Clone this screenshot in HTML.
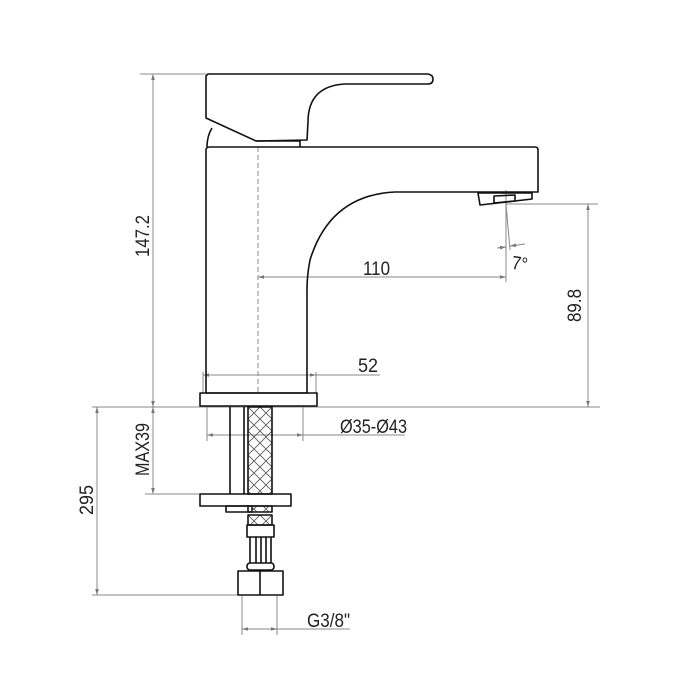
<!DOCTYPE html>
<html><head><meta charset="utf-8"><style>
html,body{margin:0;padding:0;background:#fff;}
svg{display:block}
text{font-family:"Liberation Sans",sans-serif;font-size:19px;fill:#222;}
</style></head><body>
<svg width="700" height="700" viewBox="0 0 700 700" xmlns="http://www.w3.org/2000/svg">
<defs>
<marker id="a" viewBox="0 0 10 10" refX="10" refY="5" markerWidth="8" markerHeight="6" orient="auto-start-reverse"><path d="M0,2 L10,5 L0,8 z" fill="#777"/></marker>
<pattern id="x" width="12" height="12" patternUnits="userSpaceOnUse" x="248" y="407"><path d="M0,0 L12,12 M12,0 L0,12" stroke="#555" stroke-width="0.8"/></pattern>
</defs>
<g fill="none" stroke="#888" stroke-width="1">
<line x1="140" y1="74" x2="206" y2="74"/>
<line x1="92" y1="407" x2="600" y2="407"/>
<line x1="505" y1="204" x2="598" y2="204"/>
<line x1="145" y1="494" x2="200" y2="494"/>
<line x1="92" y1="595" x2="238" y2="595"/>
<line x1="153" y1="74" x2="153" y2="407" marker-start="url(#a)" marker-end="url(#a)"/>
<line x1="588" y1="204" x2="588" y2="407" marker-start="url(#a)" marker-end="url(#a)"/>
<line x1="258" y1="277" x2="506" y2="277" marker-start="url(#a)" marker-end="url(#a)"/>
<line x1="506" y1="190" x2="506" y2="282"/>
<line x1="506" y1="204" x2="510" y2="250"/>
<line x1="497" y1="248" x2="506" y2="247" marker-end="url(#a)"/>
<line x1="525" y1="244" x2="510" y2="246" marker-end="url(#a)"/>
<line x1="203" y1="375" x2="316" y2="375" marker-start="url(#a)" marker-end="url(#a)"/>
<line x1="316" y1="375" x2="380" y2="375"/>
<line x1="203" y1="372" x2="203" y2="394"/>
<line x1="316" y1="372" x2="316" y2="394"/>
<line x1="207" y1="407" x2="207" y2="441"/>
<line x1="303" y1="407" x2="303" y2="441"/>
<line x1="207" y1="435" x2="303" y2="435" marker-start="url(#a)" marker-end="url(#a)"/>
<line x1="303" y1="435" x2="405" y2="435"/>
<line x1="153" y1="407" x2="153" y2="494" marker-start="url(#a)" marker-end="url(#a)"/>
<line x1="97" y1="407" x2="97" y2="595" marker-start="url(#a)" marker-end="url(#a)"/>
<line x1="242" y1="596" x2="242" y2="635"/>
<line x1="277" y1="596" x2="277" y2="635"/>
<line x1="242" y1="629" x2="277" y2="629" marker-start="url(#a)" marker-end="url(#a)"/>
<line x1="277" y1="629" x2="350" y2="629"/>
<line x1="258" y1="147" x2="258" y2="393" stroke-dasharray="5,3"/>
</g>
<g fill="none" stroke="#111" stroke-width="1.6" stroke-linejoin="round">
<path d="M208,74 L428,74 Q433,75 433,79 Q433,84 428,84 L345,84 Q308,86 308,122 L307,140 L256,141 L206,118 L206,76 Z"/>
<path d="M212,128 Q207,136 207,147"/>
<path d="M256,141 L300,141 L300,147"/>
<path d="M206,150 Q206,147 210,147 L535,147 Q538,147 538,150 L538,192 L395,192 Q330,195 310,260 Q307,275 307,290 L307,393 L206,393 Z"/>
<path d="M478,193 L532,193 L532,199 L480,205 Z"/>
<path d="M494,196 L515,195 L515,201 L494,203 Z"/>
<rect x="200" y="393" width="117" height="13"/>
<line x1="230" y1="407" x2="230" y2="494"/>
<line x1="244" y1="407" x2="244" y2="494"/>
<rect x="248" y="407" width="24" height="87" fill="url(#x)"/>
<rect x="200" y="494" width="91" height="12"/>
<rect x="226" y="506" width="26" height="6"/>
<rect x="248" y="506" width="24" height="6" fill="url(#x)"/>
<rect x="248" y="515" width="24" height="10" fill="url(#x)"/>
<rect x="247" y="525" width="27" height="12"/>
<path d="M250,537 L250,563 M256,537 L256,563 M261,537 L261,563 M266,537 L266,563 M271,537 L271,563"/>
<rect x="247" y="563" width="27" height="7" rx="3"/>
<rect x="238" y="571" width="45" height="24"/>
<line x1="260" y1="571" x2="260" y2="595"/>
</g>
<text x="363" y="275" textLength="27" lengthAdjust="spacingAndGlyphs">110</text>
<text x="358" y="372" textLength="20" lengthAdjust="spacingAndGlyphs">52</text>
<text x="340" y="433" textLength="67" lengthAdjust="spacingAndGlyphs">Ø35-Ø43</text>
<text x="307" y="627" textLength="43" lengthAdjust="spacingAndGlyphs">G3/8"</text>
<text x="512" y="270" textLength="16" lengthAdjust="spacingAndGlyphs" transform="rotate(8 520 262)">7°</text>
<text transform="translate(149,257) rotate(-90)" textLength="42" lengthAdjust="spacingAndGlyphs">147.2</text>
<text transform="translate(581,322) rotate(-90)" textLength="33" lengthAdjust="spacingAndGlyphs">89.8</text>
<text transform="translate(149,476) rotate(-90)" textLength="53" lengthAdjust="spacingAndGlyphs">MAX39</text>
<text transform="translate(93,515) rotate(-90)" textLength="30" lengthAdjust="spacingAndGlyphs">295</text>
</svg>
</body></html>
